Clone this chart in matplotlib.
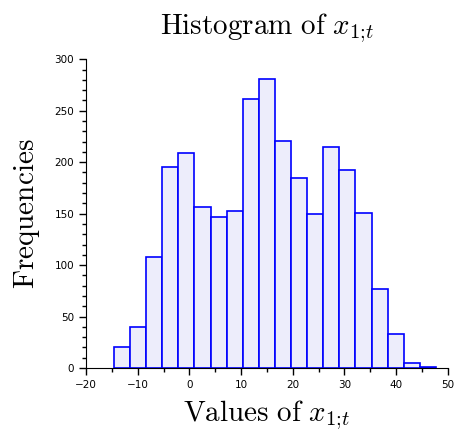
import matplotlib
matplotlib.use('Agg')
import matplotlib.pyplot as plt
import numpy as np
import matplotlib.ticker as mticker

plt.rcParams['mathtext.fontset'] = 'cm'

# histogram bins
bin_start = -14.6
bin_end = 47.7
counts = [20, 40, 108, 195, 209, 156, 147, 153, 261, 281,
          221, 185, 150, 215, 192, 151, 77, 33, 5, 1]

edges = np.linspace(bin_start, bin_end, len(counts) + 1)
centers = (edges[:-1] + edges[1:]) / 2

fig = plt.figure(figsize=(4.54, 4.36), dpi=100)
ax = fig.add_axes([0.1894, 0.156, 0.797, 0.708])

ax.hist(centers, bins=edges, weights=counts,
        facecolor='#ededfb', edgecolor='#0000ff', linewidth=1.2)

ax.set_xlim(-20, 50)
ax.set_ylim(0, 300)
ax.xaxis.set_major_locator(mticker.MultipleLocator(10))
ax.xaxis.set_minor_locator(mticker.MultipleLocator(5))
ax.yaxis.set_major_locator(mticker.MultipleLocator(50))
ax.yaxis.set_minor_locator(mticker.MultipleLocator(10))

for s in ['top', 'right']:
    ax.spines[s].set_visible(False)
ax.tick_params(which='both', direction='out', labelsize=7.5, width=1)
ax.tick_params(which='major', length=5)
ax.tick_params(which='minor', length=3)

ax.set_title(r'$\mathrm{Histogram\ of}\ x_{1;\!t}$', fontsize=21, pad=18)
ax.set_xlabel(r'$\mathrm{Values\ of}\ x_{1;\!t}$', fontsize=21, labelpad=6)
ax.set_ylabel(r'$\mathrm{Frequencies}$', fontsize=21, labelpad=9)

fig.savefig('out.png', dpi=100)
